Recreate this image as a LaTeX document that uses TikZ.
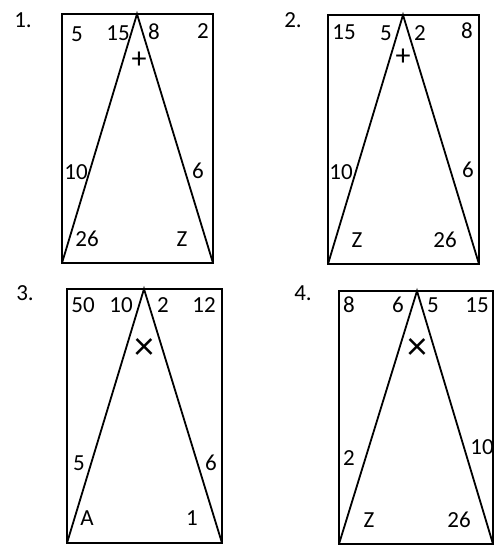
\documentclass[tikz,border=0pt]{standalone}
\usepackage{fontspec}
\setmainfont{Carlito}
\begin{document}
\begin{tikzpicture}[x=1pt,y=-1pt,
    frame/.style={line width=2.2pt},
    side/.style={line width=1.8pt},
    lab/.style={font=\fontsize{23}{24}\selectfont,inner sep=0pt},
    sign/.style={font=\fontsize{30}{30}\selectfont,inner sep=0pt},
    cross/.style={font=\fontsize{40}{40}\selectfont,inner sep=0pt}]
  \useasboundingbox (0,0) rectangle (493,545);
  % panel 1
  \draw[frame] (62,14) rectangle (213,263);
  \coordinate (t1) at (137,14);
  \coordinate (l1) at (62,263);
  \coordinate (r1) at (213,263);
  \draw[side] (l1) -- (t1) -- (r1);
  \node[lab] (n1) at (23,20) {1.};
  \node[lab] (a1) at (77,34) {5};
  \node[lab] (b1) at (118,33) {15};
  \node[lab] (c1) at (154,32) {8};
  \node[lab] (d1) at (203,31) {2};
  \node[sign] (s1) at (139,60) {+};
  \node[lab] (e1) at (76,172) {10};
  \node[lab] (f1) at (198,171) {6};
  \node[lab] (g1) at (87,239) {26};
  \node[lab] (h1) at (182,239) {Z};
  % panel 2
  \draw[frame] (328,15) rectangle (479,264);
  \coordinate (t2) at (403,15);
  \coordinate (l2) at (328,264);
  \coordinate (r2) at (479,264);
  \draw[side] (l2) -- (t2) -- (r2);
  \node[lab] (n2) at (293,20) {2.};
  \node[lab] (a2) at (344,32) {15};
  \node[lab] (b2) at (386,33) {5};
  \node[lab] (c2) at (420,33) {2};
  \node[lab] (d2) at (467,31) {8};
  \node[sign] (s2) at (403,57) {+};
  \node[lab] (e2) at (341,172) {10};
  \node[lab] (f2) at (468,170) {6};
  \node[lab] (g2) at (357,240) {Z};
  \node[lab] (h2) at (445,240) {26};
  % panel 3
  \draw[frame] (67,289) rectangle (222,543);
  \coordinate (t3) at (144,289);
  \coordinate (l3) at (67,543);
  \coordinate (r3) at (222,543);
  \draw[side] (l3) -- (t3) -- (r3);
  \node[lab] (n3) at (25,293) {3.};
  \node[lab] (a3) at (83,305) {50};
  \node[lab] (b3) at (121,305) {10};
  \node[lab] (c3) at (163,305) {2};
  \node[lab] (d3) at (204,305) {12};
  \node[cross] (s3) at (144,349) {×};
  \node[lab] (e3) at (79,463) {5};
  \node[lab] (f3) at (211,463) {6};
  \node[lab] (g3) at (87,518) {A};
  \node[lab] (h3) at (192,518) {1};
  % panel 4
  \draw[frame] (339,291) rectangle (493,544);
  \coordinate (t4) at (417,291);
  \coordinate (l4) at (339,544);
  \coordinate (r4) at (493,544);
  \draw[side] (l4) -- (t4) -- (r4);
  \node[lab] (n4) at (303,293) {4.};
  \node[lab] (a4) at (349,305) {8};
  \node[lab] (b4) at (398,305) {6};
  \node[lab] (c4) at (433,305) {5};
  \node[lab] (d4) at (477,305) {15};
  \node[cross] (s4) at (417,349) {×};
  \node[lab] (e4) at (349,458) {2};
  \node[lab] (f4) at (482,447) {10};
  \node[lab] (g4) at (369,520) {Z};
  \node[lab] (h4) at (459,520) {26};
\end{tikzpicture}
\end{document}
